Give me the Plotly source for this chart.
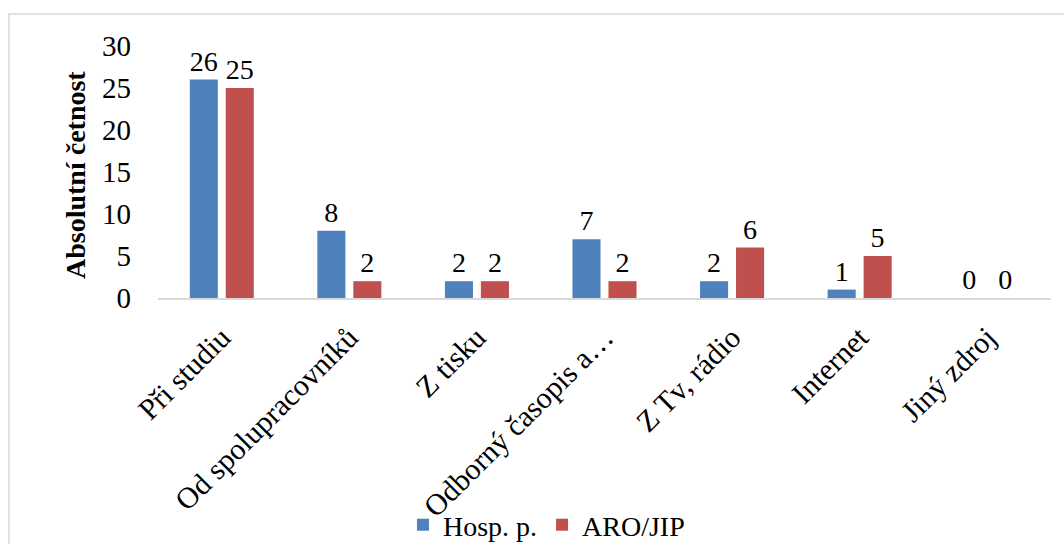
import plotly.graph_objects as go

categories = ["Při studiu", "Od spolupracovníků", "Z tisku", "Odborný časopis a…",
              "Z Tv, rádio", "Internet", "Jiný zdroj"]
hosp = [26, 8, 2, 7, 2, 1, 0]
aro = [25, 2, 2, 2, 6, 5, 0]
series_names = ["Hosp. p.", "ARO/JIP"]
y_ticks = [0, 5, 10, 15, 20, 25, 30]
y_title = "Absolutní četnost"

FONT = "Liberation Serif"
FS = 28
fig = go.Figure()
for name, vals, col in [(series_names[0], hosp, "#4f81bd"), (series_names[1], aro, "#c0504d")]:
    fig.add_trace(go.Bar(
        x=categories, y=vals, name=name, marker=dict(color=col, line=dict(width=0)),
        text=[str(v) for v in vals], textposition="outside", cliponaxis=False,
        textfont=dict(family=FONT, size=FS + 1, color="black"),
    ))

L, R, T, B = 158, 13, 46, 246
W, H = 1064, 544
pw, ph = W - L - R, H - T - B

fig.update_layout(
    width=W, height=H,
    margin=dict(l=L, r=R, t=T, b=B, autoexpand=False),
    paper_bgcolor="white", plot_bgcolor="white",
    barmode="group", bargap=0.436, bargroupgap=0.22,
    font=dict(family=FONT, size=FS, color="black"),
    uniformtext=dict(minsize=FS, mode="show"),
    showlegend=True,
    legend=dict(orientation="h", x=0.435, xanchor="center", y=(298 - 525) / ph, yanchor="middle",
                bgcolor="rgba(0,0,0,0)",
                font=dict(family=FONT, size=FS, color="black"), itemwidth=30, traceorder="normal"),
    xaxis=dict(showline=True, linecolor="#d9d9d9", linewidth=2, ticks="", tickangle=-45,
               tickfont=dict(family=FONT, size=FS + 2, color="black"), showgrid=False,
               automargin=False, ticklabelstandoff=8),
    yaxis=dict(range=[0, 30], tickvals=y_ticks, showgrid=False, showline=False, ticks="",
               tickfont=dict(family=FONT, size=FS + 1, color="black"), zeroline=False,
               automargin=False, ticklabelstandoff=26),
    annotations=[dict(text="<b>" + y_title + "</b>", xref="paper", yref="paper",
                      x=(75 - L) / pw, y=(298 - 175) / ph, xanchor="center", yanchor="middle",
                      textangle=-90, showarrow=False,
                      font=dict(family=FONT, size=FS, color="black"))],
    shapes=[dict(type="rect", xref="paper", yref="paper",
                 x0=(9 - L) / pw, x1=(1075 - L) / pw,
                 y0=(298 - 560) / ph, y1=(298 - 14) / ph,
                 line=dict(color="#d9d9d9", width=1.5), fillcolor="rgba(0,0,0,0)", layer="below")],
)
fig.write_html("out.html", config={"displayModeBar": False},
               post_script="document.body.style.margin='0';document.body.style.overflow='hidden';")
